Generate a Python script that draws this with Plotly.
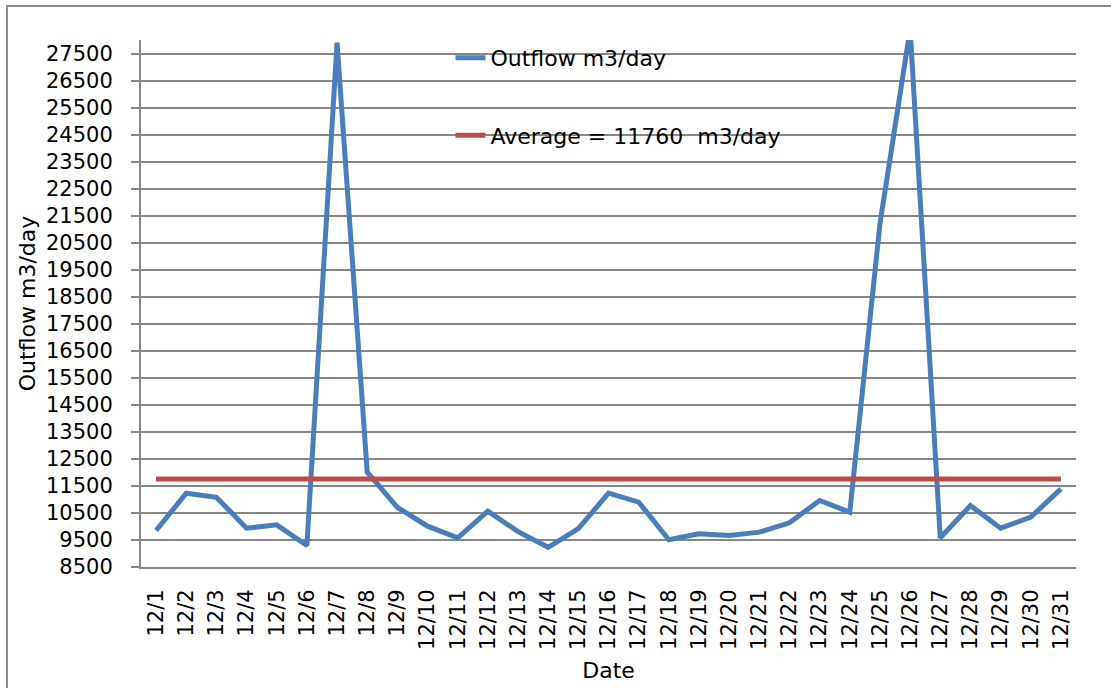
import plotly.graph_objects as go

dates = ["12/1", "12/2", "12/3", "12/4", "12/5", "12/6", "12/7", "12/8", "12/9", "12/10",
         "12/11", "12/12", "12/13", "12/14", "12/15", "12/16", "12/17", "12/18", "12/19", "12/20",
         "12/21", "12/22", "12/23", "12/24", "12/25", "12/26", "12/27", "12/28", "12/29", "12/30", "12/31"]
outflow = [9850, 11230, 11080, 9935, 10060, 9295, 27900, 12010, 10710, 10010,
           9580, 10565, 9810, 9230, 9920, 11230, 10900, 9510, 9730, 9665,
           9790, 10135, 10960, 10530, 21200, 28400, 9580, 10775, 9935, 10345, 11390]
average_value = 11760
average = [average_value] * len(dates)

FONT = "DejaVu Sans"
FS_TICK = 21
FS_TEXT = 22
GRID = "#878787"

fig = go.Figure()
fig.add_trace(go.Scatter(x=dates, y=outflow, mode="lines", name="Outflow m3/day",
                         line=dict(color="#4a7ebb", width=5), legendgroup="a"))
fig.add_trace(go.Scatter(x=dates, y=average, mode="lines", name="Average = 11760  m3/day",
                         line=dict(color="#be4b48", width=5), legendgroup="b"))

fig.update_layout(
    width=1111, height=688,
    margin=dict(l=141, r=35, t=40, b=121, autoexpand=False),
    paper_bgcolor="white", plot_bgcolor="white",
    font=dict(family=FONT, size=FS_TEXT, color="black"),
    showlegend=True,
    legend=dict(x=0.331, y=1.006, xanchor="left", yanchor="top",
                bgcolor="rgba(0,0,0,0)", tracegroupgap=46,
                font=dict(family=FONT, size=FS_TEXT, color="black")),
    xaxis=dict(type="category", range=[-0.5, 30.5], showgrid=False,
               showline=True, linecolor=GRID, linewidth=2, ticks="",
               tickangle=-90, tickfont=dict(size=FS_TICK), ticklabelstandoff=12,
               title=dict(text="Date", font=dict(size=FS_TEXT), standoff=14)),
    yaxis=dict(range=[8500, 28000], tick0=8500, dtick=1000, tickformat="d",
               showgrid=True, gridcolor=GRID, gridwidth=2,
               showline=True, linecolor=GRID, linewidth=2,
               ticks="outside", ticklen=8, tickcolor=GRID, tickwidth=2,
               tickfont=dict(size=FS_TICK), ticklabelstandoff=14, zeroline=False,
               title=dict(text="Outflow m3/day", font=dict(size=FS_TEXT), standoff=4)),
    shapes=[dict(type="rect", xref="paper", yref="paper",
                 x0=-0.1433, x1=1.2, y0=-0.4, y1=1.0646,
                 line=dict(color="#8c8c8c", width=2), fillcolor="rgba(0,0,0,0)", layer="below")],
)

fig.write_html("out.html", config={"displayModeBar": False},
               post_script="document.body.style.margin='0';")
